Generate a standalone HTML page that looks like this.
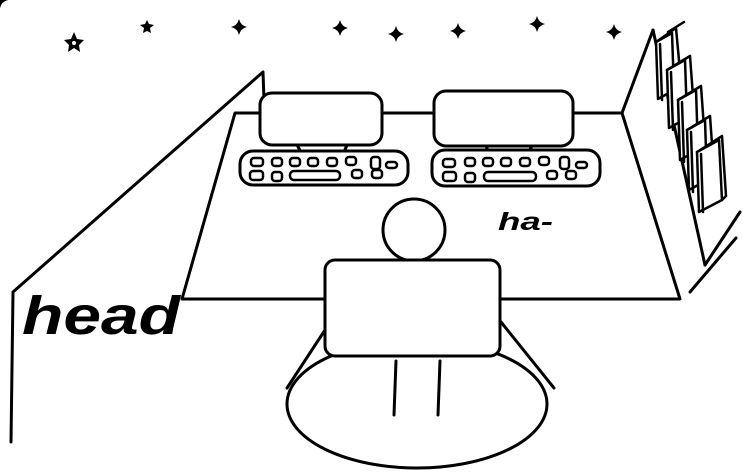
<!DOCTYPE html>
<html><head><style>
html,body{margin:0;padding:0;background:#fff;}
svg{display:block;}
</style></head><body>
<svg width="743" height="475" viewBox="0 0 743 475" xmlns="http://www.w3.org/2000/svg">
<g fill="none" stroke="#000" stroke-width="3" stroke-linejoin="round" stroke-linecap="round">
<!-- left wall -->
<polyline points="11,442 13,292 263,72 264,100"/>
<!-- desk -->
<polygon points="235,113 622,113 680,299 182,299"/>
<!-- shelf -->
<line x1="622" y1="113" x2="653" y2="30"/>
<line x1="653" y1="30" x2="705" y2="265"/>
<line x1="705" y1="265" x2="740" y2="212"/>
<line x1="690" y1="292" x2="736" y2="238"/>
<!-- books -->
<g stroke-width="2.5">
<polygon points="656,42 672,33 674,90 658,99" fill="#fff"/><polyline points="656,42 676,28 681,82 674,90"/><line x1="668" y1="32" x2="684" y2="22"/>
<polygon points="667,70 685,60 687,118 669,128" fill="#fff"/><polyline points="667,70 690,56 694,110 687,118"/>
<polygon points="678,100 696,90 698,150 680,160" fill="#fff"/><polyline points="678,100 701,86 705,142 698,150"/>
<polygon points="687,130 705,120 707,180 689,190" fill="#fff"/><polyline points="687,130 710,116 714,172 707,180"/>
<polygon points="697,152 719,140 722,200 699,212" fill="#fff"/><polyline points="697,152 722,136 726,196 722,200"/>
<line x1="660" y1="44" x2="662" y2="100"/><line x1="671" y1="72" x2="673" y2="130"/><line x1="682" y1="102" x2="684" y2="162"/><line x1="691" y1="132" x2="693" y2="192"/><line x1="701" y1="154" x2="703" y2="212"/>
</g>
<!-- monitors -->
<rect x="260" y="93" width="122" height="52" rx="12" fill="#fff"/>
<polygon points="297,145 347,145 344,152 301,152"/>
<rect x="240" y="151" width="168" height="34" rx="13" fill="#fff"/>
<rect x="434" y="91" width="139" height="55" rx="12" fill="#fff"/>
<polygon points="486,146 532,146 528,153 489,153"/>
<rect x="432" y="150" width="168" height="36" rx="13" fill="#fff"/>
</g>
<!-- keys -->
<g fill="none" stroke="#000" stroke-width="2.5">
<rect x="251" y="158" width="12" height="8" rx="3"/><rect x="272" y="158" width="10" height="8" rx="3"/><rect x="290" y="158" width="10" height="8" rx="3"/><rect x="308" y="158" width="10" height="8" rx="3"/><rect x="327" y="158" width="10" height="8" rx="3"/><rect x="346" y="157" width="10" height="8" rx="3"/><rect x="371" y="157" width="9" height="12" rx="3"/><rect x="386" y="162" width="11" height="6" rx="3"/>
<rect x="250" y="171" width="13" height="9" rx="3"/><rect x="272" y="172" width="10" height="9" rx="3"/><rect x="290" y="171" width="50" height="9" rx="4"/><rect x="352" y="170" width="10" height="8" rx="3"/><rect x="372" y="170" width="10" height="8" rx="3"/>
<rect x="443" y="159" width="12" height="8" rx="3"/><rect x="465" y="158" width="10" height="8" rx="3"/><rect x="483" y="158" width="10" height="8" rx="3"/><rect x="501" y="158" width="10" height="8" rx="3"/><rect x="520" y="158" width="10" height="8" rx="3"/><rect x="539" y="157" width="10" height="8" rx="3"/><rect x="560" y="157" width="9" height="12" rx="3"/><rect x="576" y="162" width="11" height="6" rx="3"/>
<rect x="443" y="172" width="13" height="9" rx="3"/><rect x="465" y="173" width="10" height="9" rx="3"/><rect x="484" y="172" width="52" height="9" rx="4"/><rect x="547" y="171" width="10" height="8" rx="3"/><rect x="566" y="171" width="10" height="8" rx="3"/>
</g>
<!-- person -->
<g fill="none" stroke="#000" stroke-width="3" stroke-linecap="round">
<ellipse cx="417" cy="404" rx="130" ry="64"/>
<line x1="325" y1="330" x2="287" y2="388"/>
<line x1="501" y1="322" x2="554" y2="388"/>
<circle cx="414" cy="230" r="31" fill="#fff"/>
<rect x="325" y="260" width="175" height="96" rx="10" fill="#fff"/>
<line x1="396" y1="361" x2="394" y2="415"/>
<line x1="440" y1="361" x2="438" y2="415"/>
</g>
<!-- stars -->
<g fill="#000">
<polygon points="74,32 77,39 84,40 79,45 80,52 74,48 68,52 69,45 64,40 71,39"/>
<polygon points="147,20 149,24 154,25 150,28 151,33 147,31 143,33 144,28 140,25 145,24"/>
<g id="sp"><path d="M0,-8 Q1.5,-1.5 8,0 Q1.5,1.5 0,8 Q-1.5,1.5 -8,0 Q-1.5,-1.5 0,-8Z"/></g>
<use href="#sp" x="239" y="27"/><use href="#sp" x="340" y="28"/><use href="#sp" x="396" y="34"/><use href="#sp" x="458" y="31"/><use href="#sp" x="537" y="24"/><use href="#sp" x="614" y="32"/>
</g>
<circle cx="74" cy="43" r="2" fill="#fff"/>
<text x="22" y="334" font-family="Liberation Sans, sans-serif" font-weight="bold" font-style="italic" font-size="54" textLength="158" lengthAdjust="spacingAndGlyphs">head</text>
<text x="498" y="230" font-family="Liberation Sans, sans-serif" font-weight="bold" font-style="italic" font-size="25" textLength="55" lengthAdjust="spacingAndGlyphs">ha-</text>
</svg>
</body></html>
